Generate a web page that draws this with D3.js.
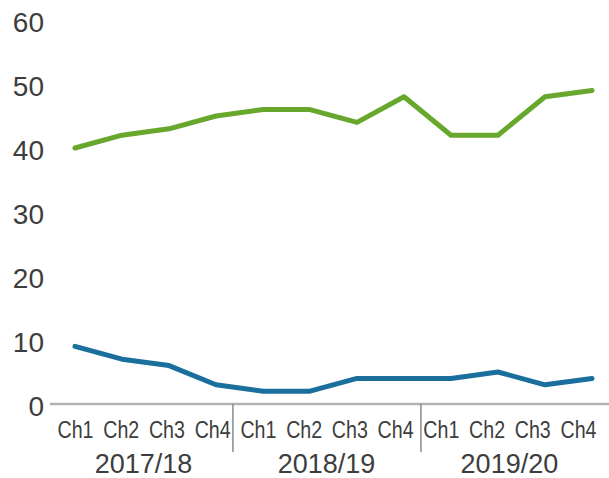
<!DOCTYPE html>
<html>
<head>
<meta charset="utf-8">
<script src="https://cdn.jsdelivr.net/npm/d3@7"></script>
<style>
  html, body { margin: 0; padding: 0; background: #fff; }
  svg { display: block; }
</style>
</head>
<body>
<svg id="chart" width="609" height="478"></svg>
<script>
const quarters = ["Ch1","Ch2","Ch3","Ch4","Ch1","Ch2","Ch3","Ch4","Ch1","Ch2","Ch3","Ch4"];
const years = ["2017/18","2018/19","2019/20"];
const greenSeries = [40, 42, 43, 45, 46, 46, 44, 48, 42, 42, 48, 49];
const blueSeries = [9, 7, 6, 3, 2, 2, 4, 4, 4, 5, 3, 4];
const yTicks = [0, 10, 20, 30, 40, 50, 60];

const svg = d3.select("#chart");
const W = 609, H = 478;
const idx = quarters.map((d, i) => i);

// data positions
const x = d3.scalePoint().domain(idx).range([75, 592]);
// label positions (labels are packed slightly tighter than the data points)
const xLab = d3.scalePoint().domain(idx).range([75, 578]);
const y = d3.scaleLinear().domain([0, 60]).range([404, 20]);
const step = x.step();

const textColor = "#3d3d3d";

// baseline gridline
svg.append("line")
  .attr("x1", 50).attr("x2", W)
  .attr("y1", y(0)).attr("y2", y(0))
  .attr("stroke", "#b3b3b3").attr("stroke-width", 2.5);

// y axis
const yAxis = svg.append("g")
  .attr("transform", "translate(44,3)")
  .call(d3.axisLeft(y).tickValues(yTicks).tickSize(0).tickPadding(0));
yAxis.select(".domain").remove();
yAxis.selectAll("text")
  .attr("fill", textColor)
  .style("font-family", "'Liberation Sans', Arial, sans-serif")
  .style("font-size", "28px");

// x axis (quarter labels)
const xAxis = svg.append("g")
  .attr("transform", `translate(0,${y(0)})`)
  .call(d3.axisBottom(xLab).tickSize(0).tickPadding(0).tickFormat(i => quarters[i]));
xAxis.select(".domain").remove();
xAxis.selectAll("text")
  .attr("dy", null)
  .attr("y", 34)
  .attr("textLength", 36)
  .attr("lengthAdjust", "spacingAndGlyphs")
  .attr("fill", textColor)
  .style("font-family", "'Liberation Sans', Arial, sans-serif")
  .style("font-size", "23px");

// group separators and year labels
const groups = [[0, 3], [4, 7], [8, 11]];
groups.forEach(([a, b], g) => {
  if (g < years.length - 1) {
    const sep = x(b) + step * 0.36;
    svg.append("line")
      .attr("x1", sep).attr("x2", sep)
      .attr("y1", y(0)).attr("y2", y(0) + 48)
      .attr("stroke", "#8a8a8a").attr("stroke-width", 1.5);
  }
  svg.append("text")
    .attr("x", (xLab(a) + xLab(b)) / 2)
    .attr("y", y(0) + 69)
    .attr("text-anchor", "middle")
    .attr("fill", textColor)
    .style("font-family", "'Liberation Sans', Arial, sans-serif")
    .style("font-size", "27px")
    .text(years[g]);
});

const line = d3.line().x((d, i) => x(i)).y(d => y(d));

svg.append("path")
  .datum(greenSeries)
  .attr("d", line)
  .attr("fill", "none")
  .attr("stroke", "#67a72c")
  .attr("stroke-width", 5)
  .attr("stroke-linejoin", "round")
  .attr("stroke-linecap", "round");

svg.append("path")
  .datum(blueSeries)
  .attr("d", line)
  .attr("fill", "none")
  .attr("stroke", "#1a6f9c")
  .attr("stroke-width", 5)
  .attr("stroke-linejoin", "round")
  .attr("stroke-linecap", "round");
</script>
</body>
</html>
